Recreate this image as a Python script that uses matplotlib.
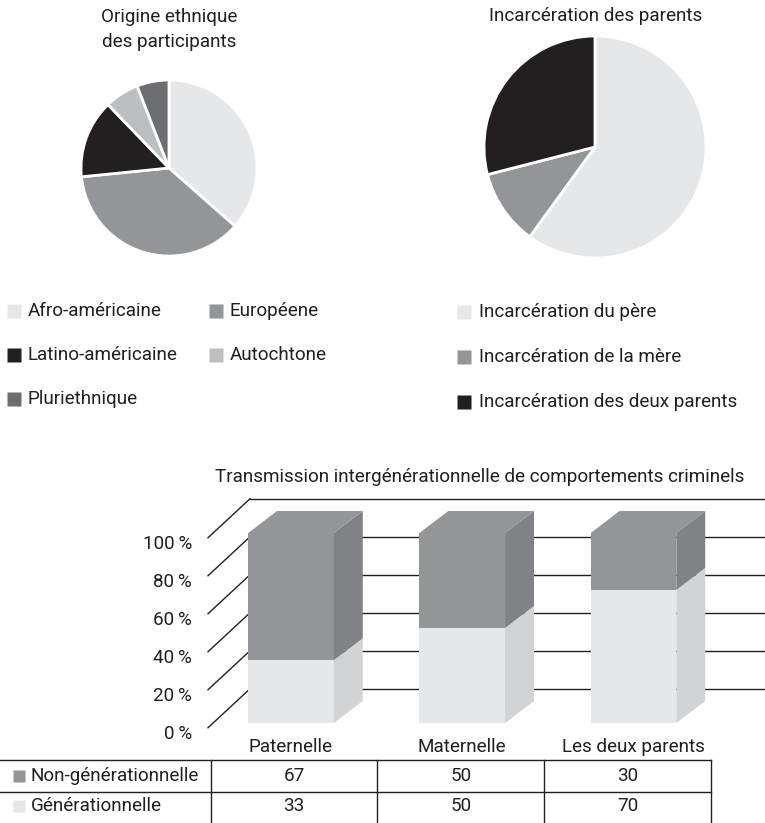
import numpy as np
import matplotlib
matplotlib.use("Agg")
import matplotlib.pyplot as plt
from matplotlib.patches import Polygon

plt.rcParams['font.family'] = ['Roboto', 'DejaVu Sans']
plt.rcParams['font.size'] = 13.6

W, H = 765, 823
INK = "#231f20"

# pie 1 : ethnic origin
ethnie_labels = ["Afro-américaine", "Européene", "Latino-américaine", "Autochtone", "Pluriethnique"]
ethnie_values = [36.5, 36.9, 14.4, 6.3, 5.9]
ethnie_colors = ["#e6e7e8", "#939598", "#231f20", "#bcbec0", "#6d6e71"]

# pie 2 : parental incarceration
incarc_labels = ["Incarcération du père", "Incarcération de la mère", "Incarcération des deux parents"]
incarc_values = [60, 11, 29]
incarc_colors = ["#e6e7e8", "#939598", "#231f20"]

# stacked 3d bars
categories = ["Paternelle", "Maternelle", "Les deux parents"]
non_gen = [67, 50, 30]
gen = [33, 50, 70]
yticks = [0, 20, 40, 60, 80, 100]


def px_box(left, top, w, h):
    return [left / W, 1 - (top + h) / H, w / W, h / H]


fig = plt.figure(figsize=(W / 100, H / 100), dpi=100)

# overlay in pixel coords for titles / legends
ov = fig.add_axes([0, 0, 1, 1])
ov.set_xlim(0, W)
ov.set_ylim(H, 0)
ov.axis("off")

# ---- pie 1
ax1 = fig.add_axes(px_box(169 - 88, 168 - 88, 176, 176))
ax1.pie(ethnie_values, colors=ethnie_colors, startangle=90, counterclock=False,
        wedgeprops=dict(edgecolor="white", linewidth=2.0))
ax1.set_xlim(-1, 1)
ax1.set_ylim(-1, 1)
ov.text(169, 17, "Origine ethnique", ha="center", va="center", color=INK)
ov.text(169, 42, "des participants", ha="center", va="center", color=INK)

# ---- pie 2
ax2 = fig.add_axes(px_box(595 - 111, 147 - 111, 222, 222))
ax2.pie(incarc_values, colors=incarc_colors, startangle=90, counterclock=False,
        wedgeprops=dict(edgecolor="white", linewidth=2.0))
ax2.set_xlim(-1, 1)
ax2.set_ylim(-1, 1)
ov.text(596, 16, "Incarcération des parents", ha="center", va="center", color=INK)

# ---- legends (row-major, 2 columns for the first)
leg1_pos = [(14, 311), (216, 311), (14, 355), (216, 355), (14, 399)]
for (x, y), lab, col in zip(leg1_pos, ethnie_labels, ethnie_colors):
    ov.plot(x, y, marker="s", ms=10, color=col, mec="none")
    ov.text(x + 14, y, lab, va="center", color=INK)
for k, (lab, col) in enumerate(zip(incarc_labels, incarc_colors)):
    y = 312 + 45 * k
    ov.plot(464, y, marker="s", ms=10, color=col, mec="none")
    ov.text(479, y, lab, va="center", color=INK)

# ---- bar chart
sx, x0 = 171.25, 291.0     # px per category, px of first bar
sy, y0 = 1.9, 723.0        # px per percent, px of 0 %
top_px = 460
ax = fig.add_axes(px_box(0, top_px, W, H - top_px))
ax.set_xlim(-x0 / sx, (W - x0) / sx)
ax.set_ylim((y0 - H) / sy, (y0 - top_px) / sy)
ax.axis("off")

bw = 0.5
ddx, ddy = 0.169, 11.6     # bar depth
wdx, wdy = 0.245, 18.0     # back wall depth
xw = (208 - x0) / sx

for v in yticks:
    ax.plot([xw, xw + wdx], [v - 2.5, v + wdy], color=INK, lw=1.0, zorder=1)
    ax.plot([xw + wdx, (W - x0) / sx], [v + wdy, v + wdy], color=INK, lw=1.0, zorder=1)
    ax.text((192 - x0) / sx, v - 6, f"{v}\u2009%", ha="right", va="center", color=INK)

x = np.arange(len(categories))
ax.bar(x, gen, width=bw, color="#e6e7e8", zorder=3)
ax.bar(x, non_gen, bottom=gen, width=bw, color="#939598", zorder=3)
for i, g, n in zip(x, gen, non_gen):
    r = i + bw / 2
    l = i - bw / 2
    t = g + n
    ax.add_patch(Polygon([(r, 0), (r + ddx, ddy), (r + ddx, g + ddy), (r, g)],
                         closed=True, fc="#d1d3d4", ec="none", zorder=3))
    ax.add_patch(Polygon([(r, g), (r + ddx, g + ddy), (r + ddx, t + ddy), (r, t)],
                         closed=True, fc="#808285", ec="none", zorder=3))
    ax.add_patch(Polygon([(l, t), (r, t), (r + ddx, t + ddy), (l + ddx, t + ddy)],
                         closed=True, fc="#949599", ec="none", zorder=3))
    ax.text(i, (y0 - 747) / sy, categories[i], ha="center", va="center", color=INK)

fig.text(480 / W, 1 - 477 / H, "Transmission intergénérationnelle de comportements criminels",
         ha="center", va="center", color=INK)

# ---- data table
edges = -0.47 + 0.975 * np.arange(4)
r_top, r_mid, r_bot = (y0 - 760) / sy, (y0 - 792) / sy, (y0 - 823) / sy
ax.plot([-x0 / sx, edges[-1]], [r_top, r_top], color=INK, lw=1.0, clip_on=False)
ax.plot([-x0 / sx, edges[-1]], [r_mid, r_mid], color=INK, lw=1.0, clip_on=False)
for e in edges:
    ax.plot([e, e], [r_top, r_bot], color=INK, lw=1.0, clip_on=False)

rows = [("Non-générationnelle", non_gen, "#939598", (y0 - 776) / sy),
        ("Générationnelle", gen, "#e6e7e8", (y0 - 806) / sy)]
for lab, vals, col, ry in rows:
    ax.plot((19 - x0) / sx, ry, marker="s", ms=8.6, color=col, mec="none", clip_on=False)
    ax.text((31 - x0) / sx, ry, lab, va="center", color=INK)
    for k, v in enumerate(vals):
        ax.text((edges[k] + edges[k + 1]) / 2, ry, str(v), ha="center", va="center", color=INK)

fig.savefig("out.png", dpi=100)
